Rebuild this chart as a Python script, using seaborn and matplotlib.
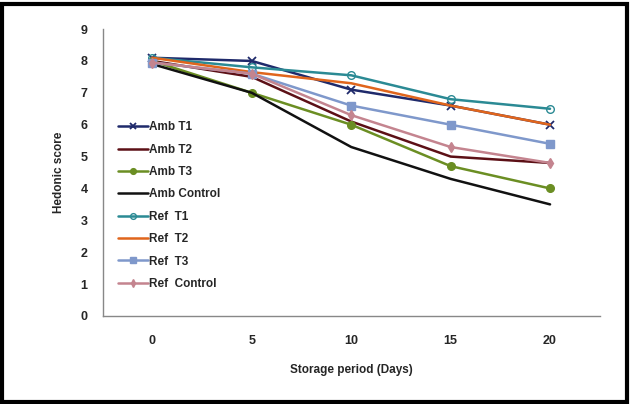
import matplotlib
matplotlib.use("Agg")
import matplotlib.pyplot as plt
import seaborn as sns
import numpy as np
from matplotlib.patches import Rectangle

# storage days and hedonic scores
days = ["0", "5", "10", "15", "20"]
amb_t1 = [8.1, 8.0, 7.1, 6.6, 6.0]
amb_t2 = [8.0, 7.5, 6.1, 5.0, 4.8]
amb_t3 = [8.0, 7.0, 6.0, 4.7, 4.0]
amb_control = [7.9, 7.0, 5.3, 4.3, 3.5]
ref_t1 = [8.1, 7.8, 7.55, 6.8, 6.5]
ref_t2 = [8.1, 7.65, 7.3, 6.6, 6.0]
ref_t3 = [7.95, 7.6, 6.6, 6.0, 5.4]
ref_control = [7.95, 7.6, 6.3, 5.3, 4.8]

series = [
    ("Amb T1", amb_t1, "#1f2a6b", "x", "full"),
    ("Amb T2", amb_t2, "#5c1016", None, "full"),
    ("Amb T3", amb_t3, "#6b8e23", "o", "full"),
    ("Amb Control", amb_control, "#111111", None, "full"),
    ("Ref  T1", ref_t1, "#2b8a94", "o", "none"),
    ("Ref  T2", ref_t2, "#e0651c", None, "full"),
    ("Ref  T3", ref_t3, "#7f98cb", "s", "full"),
    ("Ref  Control", ref_control, "#c4848f", "d", "full"),
]

sns.set_style("white")
plt.rcParams['font.family'] = ['Liberation Sans Narrow', 'Liberation Sans', 'DejaVu Sans']
plt.rcParams['font.weight'] = 'bold'

fig = plt.figure(figsize=(6.3, 4.04), dpi=100)
ax = fig.add_axes([0.163, 0.218, 0.789, 0.71])
x = np.arange(len(days))

for name, vals, col, mk, fill in series:
    sns.lineplot(ax=ax, x=x, y=vals, color=col, linewidth=1.8, label=name,
                 marker=mk, markersize=5.5, fillstyle=fill,
                 markeredgecolor=col, markeredgewidth=1.0 if mk != "x" else 1.3)

ax.set_xlim(-0.5, 4.5)
ax.set_ylim(0, 9)
ax.set_yticks(range(0, 10))
ax.set_xticks(x)
ax.set_xticklabels(days)
ax.set_xticks(np.arange(-0.5, 5.0, 1.0), minor=True)
ax.tick_params(axis="x", which="major", length=0, pad=14, labelsize=9)
ax.tick_params(axis="x", which="minor", length=4, color="#888888", direction="out")
ax.tick_params(axis="y", length=4, color="#888888", direction="out", labelsize=9, pad=7)
for lab in ax.get_xticklabels() + ax.get_yticklabels():
    lab.set_fontweight("bold")

for s in ["top", "right"]:
    ax.spines[s].set_visible(False)
for s in ["left", "bottom"]:
    ax.spines[s].set_color("#888888")
    ax.spines[s].set_linewidth(1.0)

ax.set_xlabel("Storage period (Days)", fontsize=8.5, fontweight="bold", labelpad=12)
ax.set_ylabel("Hedonic score", fontsize=8.5, fontweight="bold", labelpad=11)

leg = ax.legend(loc="upper left", bbox_to_anchor=(0.022, 0.695), frameon=False,
                fontsize=8.5, handlelength=2.5, handletextpad=0.1,
                labelspacing=0.88, borderaxespad=0, markerscale=0.75)
for t in leg.get_texts():
    t.set_fontweight("bold")

# black frame around the picture
fig.patches.append(Rectangle((0.003, 0.004), 0.992, 0.986, transform=fig.transFigure,
                             fill=False, edgecolor="black", linewidth=3))

fig.savefig("out.png", dpi=100)
